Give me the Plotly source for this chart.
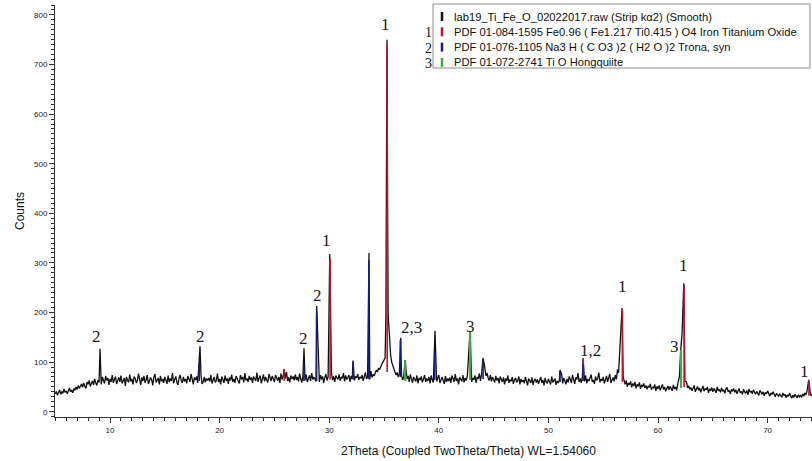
import numpy as np
import plotly.graph_objects as go

# ---------------- data ----------------
theta_start = 5.0
theta_step = 0.1
baseline_counts = [
    36, 41, 33, 39, 44, 35, 40, 37, 46, 39, 42, 36, 45, 48, 40, 44, 38, 47, 43, 50,
    45, 53, 47, 51, 56, 49, 58, 52, 47, 60, 55, 63, 51, 57, 62, 54, 66, 58, 53, 64,
    59, 67, 55, 70, 61, 57, 72, 63, 68, 54, 66, 60, 74, 58, 65, 71, 56, 62, 69, 60,
    73, 57, 64, 68, 52, 70, 63, 59, 75, 61, 66, 55, 71, 67, 58, 63, 77, 60, 54, 69,
    62, 72, 58, 65, 74, 56, 61, 69, 64, 53, 70, 76, 59, 63, 68, 55, 72, 61, 66, 58,
    70, 64, 56, 73, 60, 67, 62, 78, 57, 65, 71, 59, 54, 68, 74, 63, 58, 70, 61, 66,
    57, 72, 65, 60, 76, 62, 55, 69, 64, 71, 58, 66, 62, 73, 56, 60, 70, 59, 67, 63,
    68, 61, 74, 57, 65, 70, 59, 63, 77, 60, 66, 55, 71, 64, 58, 73, 62, 67, 56, 69,
    63, 75, 60, 66, 58, 72, 68, 61, 57, 74, 65, 70, 59, 78, 63, 67, 60, 72, 64, 69,
    58, 71, 66, 62, 79, 60, 68, 73, 57, 65, 75, 61, 70, 64, 59, 76, 67, 62, 72, 66,
    60, 74, 68, 63, 70, 58, 77, 65, 72, 61, 67, 80, 62, 69, 59, 73, 66, 71, 63, 75,
    64, 70, 61, 77, 66, 59, 72, 68, 63, 75, 60, 69, 73, 62, 78, 65, 70, 66, 61, 72,
    67, 60, 74, 65, 71, 58, 69, 76, 63, 70, 66, 62, 79, 64, 71, 60, 73, 68, 65, 75,
    62, 70, 67, 78, 61, 73, 65, 69, 74, 60, 72, 66, 80, 63, 71, 68, 76, 64, 70, 67,
    74, 62, 71, 79, 66, 70, 73, 65, 82, 69, 75, 72, 78, 84, 80, 88, 85, 93, 96, 100,
    104, 108, 112, 120, 135, 145, 115, 100, 92, 86, 80, 74, 79, 70, 76, 68, 73, 64, 70, 75,
    80, 66, 72, 60, 75, 63, 58, 70, 65, 61, 73, 57, 68, 64, 71, 59, 66, 74, 60, 67,
    62, 70, 57, 73, 64, 59, 71, 66, 61, 68, 74, 58, 65, 70, 63, 56, 72, 60, 67, 62,
    69, 58, 73, 64, 60, 76, 62, 67, 55, 70, 65, 61, 74, 59, 68, 63, 71, 57, 66, 72,
    60, 68, 64, 73, 58, 70, 66, 77, 62, 75, 69, 80, 65, 72, 78, 68, 63, 74, 61, 70,
    66, 59, 72, 63, 68, 57, 71, 64, 60, 69, 55, 67, 62, 73, 58, 65, 61, 70, 56, 64,
    68, 59, 63, 71, 55, 66, 60, 64, 57, 70, 62, 53, 67, 61, 58, 69, 54, 63, 66, 59,
    65, 56, 62, 70, 58, 64, 53, 68, 60, 57, 66, 61, 55, 71, 59, 63, 67, 54, 62, 58,
    64, 60, 76, 57, 68, 62, 55, 66, 59, 71, 63, 58, 74, 61, 56, 69, 65, 78, 60, 67,
    58, 70, 64, 61, 73, 57, 66, 62, 68, 75, 60, 64, 56, 71, 63, 67, 79, 59, 66, 62,
    70, 57, 64, 72, 60, 66, 76, 58, 63, 69, 61, 74, 65, 70, 78, 82, 90, 95, 88, 60,
    55, 63, 50, 58, 54, 61, 49, 57, 52, 60, 47, 55, 51, 59, 46, 54, 50, 57, 48, 53,
    45, 52, 49, 56, 44, 50, 47, 55, 42, 51, 46, 53, 43, 49, 55, 45, 50, 41, 48, 52,
    44, 51, 47, 42, 54, 46, 50, 43, 56, 58, 62, 70, 120, 150, 200, 70, 60, 48, 52, 45,
    49, 42, 47, 53, 40, 46, 51, 43, 48, 39, 45, 52, 41, 47, 44, 50, 38, 46, 42, 49,
    40, 47, 43, 38, 50, 42, 45, 39, 48, 41, 44, 37, 46, 49, 40, 43, 36, 45, 41, 47,
    39, 44, 36, 42, 47, 38, 41, 35, 45, 40, 37, 43, 34, 46, 39, 42, 36, 44, 38, 35,
    41, 37, 33, 43, 38, 35, 40, 32, 39, 36, 42, 34, 31, 38, 35, 40, 33, 30, 37, 34,
    31, 36, 33, 29, 38, 32, 35, 28, 34, 31, 37, 30, 27, 33, 29, 35, 31, 28, 34, 30,
    33, 29, 36, 31, 38, 34, 42, 48, 45, 36, 32, 37, 34,
]

peak_theta = [9.09, 18.12, 18.21, 25.88, 27.70, 28.86, 28.97, 30.05, 32.17, 33.63,
              35.17, 35.27, 35.37, 36.52, 36.92, 37.02, 39.65, 42.75, 42.85,
              44.03, 44.15, 51.06, 53.16, 56.30, 56.55, 56.72, 56.82,
              61.95, 62.07, 62.20, 62.35, 62.46, 73.75]
peak_counts = [127, 98, 132, 86, 128, 213, 140, 318, 103, 320,
               190, 750, 200, 149, 104, 85, 163, 120, 163,
               108, 96, 84, 108, 85, 130, 209, 70,
               70, 124, 160, 259, 62, 64]

# reference phase sticks (drawn over the pattern)
phase1_theta = [25.90, 30.08, 35.29, 53.18, 56.75, 62.38, 73.77]
phase1_low = [62, 65, 80, 62, 60, 50, 32]
phase1_high = [86, 308, 740, 104, 205, 255, 62]

phase2_theta = [18.14, 27.69, 28.85, 32.18, 33.61, 36.50, 39.63, 44.04, 51.06, 53.14]
phase2_low = [62, 62, 62, 65, 66, 70, 64, 66, 60, 62]
phase2_high = [100, 95, 200, 100, 305, 145, 120, 104, 82, 95]

phase3_theta = [36.93, 42.86, 62.10]
phase3_low = [62, 64, 48]
phase3_high = [104, 160, 124]

label_texts = ["2", "2", "2", "2", "1", "1", "2,3", "3", "1,2", "1", "1", "3", "1"]
label_theta = [8.81, 18.21, 27.61, 28.89, 29.71, 35.09, 37.55, 42.85, 53.80, 56.72, 62.28, 61.46, 73.41]
label_counts = [151, 151, 147, 235, 346, 780, 169, 171, 124, 252, 294, 131, 82]

legend_labels = [
    "lab19_Ti_Fe_O_02022017.raw (Strip k\u03b12) (Smooth)",
    "PDF 01-084-1595 Fe0.96 ( Fe1.217 Ti0.415 ) O4 Iron Titanium Oxide",
    "PDF 01-076-1105 Na3 H ( C O3 )2 ( H2 O )2 Trona, syn",
    "PDF 01-072-2741 Ti O Hongquiite",
]
legend_marks = ["", "1", "2", "3"]

x_ticks = [10, 20, 30, 40, 50, 60, 70]
y_ticks = [0, 100, 200, 300, 400, 500, 600, 700, 800]

# ---------------- styling ----------------
COL_DATA = "#111111"
COL_P1 = "#c4122e"
COL_P2 = "#1c1c7e"
COL_P3 = "#45a845"
legend_colors = [COL_DATA, COL_P1, COL_P2, COL_P3]

W, H = 812, 461
ML, MR, MT, MB = 55, 0, 5, 44
PW, PH = W - ML - MR, H - MT - MB


def px(x):
    return (x - ML) / PW


def py(y):
    return (H - MB - y) / PH


# ---------------- build pattern ----------------
grid_theta = np.round(theta_start + theta_step * np.arange(len(baseline_counts)), 3)
pk_t = np.array(peak_theta)
keep = np.array([np.min(np.abs(pk_t - t)) > 0.055 for t in grid_theta])
xs = np.concatenate([grid_theta[keep], pk_t])
ys = np.concatenate([np.array(baseline_counts, dtype=float)[keep], np.array(peak_counts, dtype=float)])
order = np.argsort(xs)
xs, ys = xs[order], ys[order]

fig = go.Figure()
fig.add_trace(go.Scatter(x=xs, y=ys, mode="lines", line=dict(color=COL_DATA, width=1.3),
                         hoverinfo="skip", showlegend=False))


def sticks(th, lo, hi):
    sx, sy = [], []
    for t, a, b in zip(th, lo, hi):
        sx += [t, t, None]
        sy += [a, b, None]
    return sx, sy


for th, lo, hi, col, wd in [(phase1_theta, phase1_low, phase1_high, COL_P1, 1.6),
                            (phase2_theta, phase2_low, phase2_high, COL_P2, 1.6),
                            (phase3_theta, phase3_low, phase3_high, COL_P3, 2.2)]:
    sx, sy = sticks(th, lo, hi)
    fig.add_trace(go.Scatter(x=sx, y=sy, mode="lines", line=dict(color=col, width=wd),
                             hoverinfo="skip", showlegend=False))

annotations = []
for t, x, y in zip(label_texts, label_theta, label_counts):
    annotations.append(dict(x=x, y=y, xref="x", yref="y", text=t, showarrow=False,
                            font=dict(family="Liberation Serif, Times New Roman, serif", size=17, color="#1a1a1a"),
                            xanchor="center", yanchor="middle"))

# legend box
shapes = [dict(type="rect", xref="paper", yref="paper", x0=px(433), x1=px(810), y0=py(68), y1=py(4),
               line=dict(color="#8a8a8a", width=1), fillcolor="white", layer="above")]
for i, (lab, col, mk) in enumerate(zip(legend_labels, legend_colors, legend_marks)):
    yc = 16.5 + 15.3 * i
    shapes.append(dict(type="line", xref="paper", yref="paper", x0=px(442), x1=px(442),
                       y0=py(yc + 4.5), y1=py(yc - 4.5), line=dict(color=col, width=2.5), layer="above"))
    annotations.append(dict(x=px(452), y=py(yc), xref="paper", yref="paper", text=lab, showarrow=False,
                            xanchor="left", yanchor="middle",
                            font=dict(family="Liberation Sans, Arial, sans-serif", size=11.2, color="#111111")))
    if mk:
        annotations.append(dict(x=px(428), y=py(yc + 1), xref="paper", yref="paper", text=mk, showarrow=False,
                                xanchor="center", yanchor="middle",
                                font=dict(family="Liberation Serif, Times New Roman, serif", size=14, color="#111111")))

# axis titles
annotations.append(dict(x=px(468), y=py(451), xref="paper", yref="paper",
                        text="2Theta (Coupled TwoTheta/Theta) WL=1.54060", showarrow=False,
                        xanchor="center", yanchor="middle",
                        font=dict(family="Liberation Sans, Arial, sans-serif", size=12, color="#111111")))
annotations.append(dict(x=px(20), y=py(211), xref="paper", yref="paper", text="Counts", showarrow=False,
                        textangle=-90, xanchor="center", yanchor="middle",
                        font=dict(family="Liberation Sans, Arial, sans-serif", size=12, color="#111111")))

fig.update_layout(
    width=W, height=H,
    margin=dict(l=ML, r=MR, t=MT, b=MB, pad=0),
    paper_bgcolor="white", plot_bgcolor="white",
    showlegend=False,
    annotations=annotations,
    shapes=shapes,
    xaxis=dict(range=[4.98, 74.05], tickmode="array", tickvals=x_ticks,
               ticktext=[str(v) for v in x_ticks],
               ticks="outside", ticklen=5, tickwidth=1, tickcolor="#333333",
               showline=True, linecolor="#333333", linewidth=1,
               showgrid=False, zeroline=False, automargin=False,
               tickfont=dict(family="Liberation Sans, Arial, sans-serif", size=8, color="#222222"),
               minor=dict(tickmode="linear", tick0=0, dtick=1, ticks="outside", ticklen=3,
                          tickcolor="#333333", showgrid=False)),
    yaxis=dict(range=[-10.7, 820], tickmode="array", tickvals=y_ticks,
               ticktext=[str(v) for v in y_ticks],
               ticks="outside", ticklen=5, tickwidth=1, tickcolor="#333333",
               showline=True, linecolor="#333333", linewidth=1,
               showgrid=False, zeroline=False, automargin=False,
               tickfont=dict(family="Liberation Sans, Arial, sans-serif", size=8, color="#222222"),
               minor=dict(tickmode="linear", tick0=0, dtick=10, ticks="outside", ticklen=3,
                          tickcolor="#333333", showgrid=False)),
)

fig.write_html("out.html", config={"displayModeBar": False},
               post_script="document.body.style.margin='0';document.body.style.overflow='hidden';")
